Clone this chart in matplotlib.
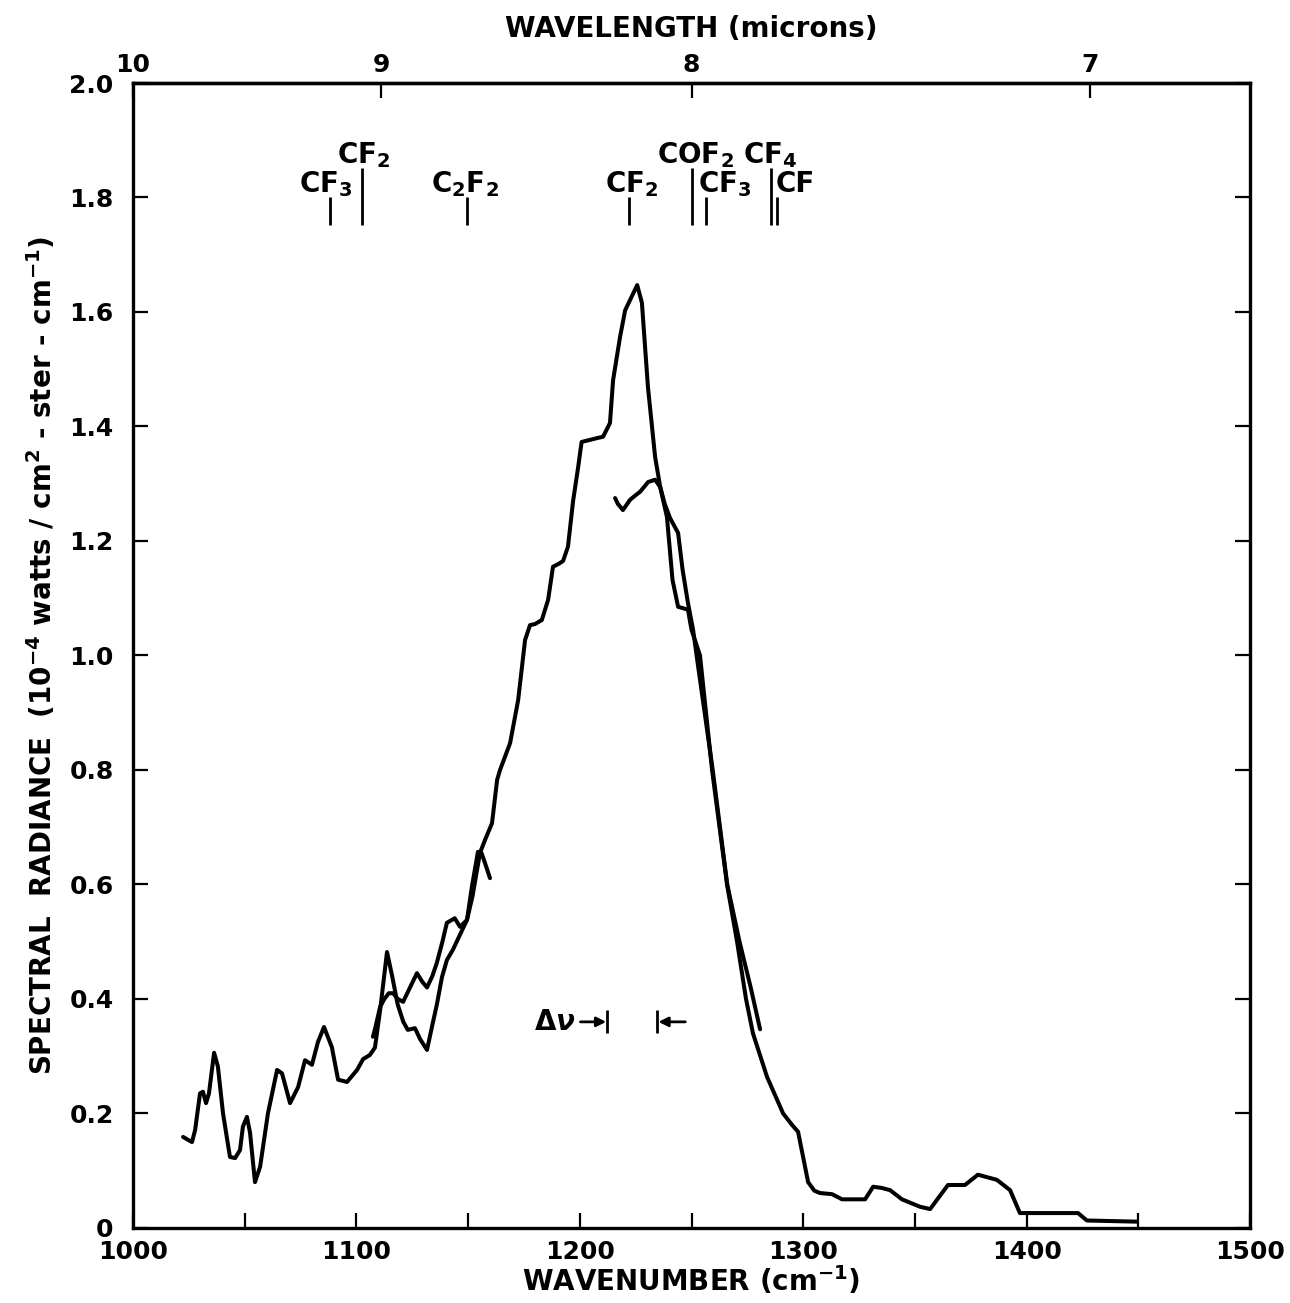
import numpy as np
import matplotlib
matplotlib.use("Agg")
import matplotlib.pyplot as plt

plt.rcParams["font.family"] = ["DejaVu Sans"]
plt.rcParams["font.weight"] = "bold"
plt.rcParams["axes.labelweight"] = "bold"
plt.rcParams["mathtext.fontset"] = "custom"
plt.rcParams["mathtext.bf"] = "DejaVu Sans:bold"
plt.rcParams["mathtext.rm"] = "DejaVu Sans:bold"
plt.rcParams["mathtext.default"] = "bf"

# main scan
wn_a = [1022.4, 1026.4, 1027.8, 1030.0, 1031.3, 1032.7, 1034.0, 1036.3, 1038.0, 1040.3,
        1043.4, 1045.7, 1047.9, 1049.2, 1051.0, 1052.4, 1054.6, 1056.9, 1060.4, 1064.5,
        1066.7, 1070.3, 1073.9, 1077.0, 1080.1, 1082.8, 1085.5, 1089.0, 1091.8, 1095.8,
        1100.3, 1103.0, 1106.0, 1108.3, 1110.6, 1113.7, 1116.0, 1118.5, 1121.0, 1123.0,
        1126.2, 1128.5, 1131.6, 1133.8, 1136.0, 1138.3, 1140.5, 1143.2, 1147.3, 1149.5,
        1152.0, 1155.3, 1157.6, 1160.7, 1163.0, 1164.3, 1168.8, 1172.4, 1175.5, 1177.7,
        1180.0, 1183.0, 1185.8, 1188.0, 1190.5, 1192.5, 1194.7, 1197.0, 1199.3, 1200.8,
        1205.0, 1208.0, 1210.4, 1213.5, 1214.9, 1218.0, 1220.3, 1223.0, 1225.7, 1227.8,
        1230.5, 1233.7, 1236.0, 1239.0, 1241.5, 1244.0, 1248.4, 1250.0, 1253.8, 1259.2,
        1265.9, 1270.4, 1274.4, 1277.5, 1283.8, 1291.0, 1295.0, 1297.7,
        1302.2, 1305.0, 1307.5, 1312.9, 1317.4, 1327.7, 1331.3, 1335.0, 1338.9, 1344.2,
        1352.3, 1356.8, 1364.8, 1372.4, 1378.2, 1386.7, 1392.6, 1397.0, 1400.0, 1423.0,
        1427.0, 1449.4]
rad_a = [0.159, 0.150, 0.171, 0.235, 0.238, 0.218, 0.235, 0.306, 0.282, 0.200,
         0.124, 0.122, 0.136, 0.177, 0.194, 0.166, 0.080, 0.107, 0.200, 0.276,
         0.270, 0.218, 0.246, 0.293, 0.285, 0.325, 0.351, 0.316, 0.259, 0.255,
         0.276, 0.295, 0.302, 0.315, 0.380, 0.482, 0.440, 0.390, 0.360, 0.346,
         0.349, 0.330, 0.311, 0.351, 0.390, 0.438, 0.468, 0.486, 0.520, 0.538,
         0.580, 0.655, 0.678, 0.707, 0.783, 0.800, 0.847, 0.922, 1.027, 1.053,
         1.055, 1.062, 1.097, 1.155, 1.160, 1.165, 1.190, 1.270, 1.330, 1.373,
         1.377, 1.380, 1.382, 1.406, 1.481, 1.556, 1.603, 1.625, 1.647, 1.616,
         1.469, 1.347, 1.294, 1.242, 1.132, 1.085, 1.080, 1.045, 1.000, 0.800,
         0.600, 0.500, 0.400, 0.340, 0.264, 0.200, 0.180, 0.168,
         0.080, 0.065, 0.061, 0.059, 0.050, 0.050, 0.072, 0.070, 0.066, 0.050,
         0.037, 0.033, 0.075, 0.075, 0.093, 0.084, 0.066, 0.026, 0.026, 0.026,
         0.013, 0.011]

# short overlapping scan, low side
wn_b = [1107.4, 1108.5, 1110.6, 1112.5, 1114.5, 1116.4, 1118.5, 1120.9, 1124.0, 1127.1,
        1129.5, 1131.6, 1134.0, 1136.0, 1138.5, 1140.5, 1144.0, 1146.4, 1149.5, 1151.7,
        1154.4, 1156.0, 1157.6, 1159.8]
rad_b = [0.334, 0.350, 0.386, 0.400, 0.410, 0.410, 0.400, 0.395, 0.420, 0.445,
         0.430, 0.420, 0.440, 0.463, 0.500, 0.533, 0.541, 0.526, 0.538, 0.596,
         0.657, 0.655, 0.637, 0.611]

# short overlapping scan, high side
wn_c = [1215.8, 1217.0, 1219.3, 1222.5, 1225.0, 1227.0, 1230.6, 1233.7, 1236.0, 1238.0,
        1240.4, 1244.0, 1246.0, 1248.4, 1250.7, 1253.0, 1259.5, 1266.0, 1271.5, 1276.5,
        1280.7]
rad_c = [1.275, 1.265, 1.254, 1.272, 1.280, 1.286, 1.303, 1.307, 1.294, 1.265,
         1.240, 1.214, 1.150, 1.092, 1.045, 0.980, 0.800, 0.600, 0.500, 0.420,
         0.347]

# band positions of species
species = ["CF$_3$", "CF$_2$", "C$_2$F$_2$", "CF$_2$", "COF$_2$", "CF$_3$", "CF$_4$", "CF"]
band_wn = [1088.0, 1102.6, 1149.6, 1222.0, 1250.4, 1256.5, 1285.4, 1288.4]
band_top = [1.801, 1.852, 1.801, 1.801, 1.852, 1.801, 1.852, 1.801]
label_x = [1086.5, 1103.4, 1148.6, 1223.2, 1251.6, 1253.0, 1285.1, 1287.8]
label_ha = ["center", "center", "center", "center", "center", "left", "center", "left"]
band_bottom = 1.752

# resolution marker
dnu_left, dnu_right, dnu_y = 1212.3, 1234.7, 0.36

fig = plt.figure(figsize=(12.9, 13.03), dpi=100)
ax = fig.add_axes([0.1031, 0.0576, 0.8659, 0.8787])

lw = 2.9
for xs, ys in [(wn_a, rad_a), (wn_b, rad_b), (wn_c, rad_c)]:
    ax.plot(xs, ys, color="black", lw=lw, solid_capstyle="round", solid_joinstyle="round")

for i in range(len(species)):
    ax.vlines(band_wn[i], band_bottom, band_top[i], color="black", lw=2.0)
    ax.text(label_x[i], band_top[i] + 0.008, species[i], ha=label_ha[i], va="baseline",
            fontsize=20)

# delta nu
ax.text(dnu_left - 23.4, dnu_y, "Δ$\\mathit{\\nu}$", ha="center", va="center", fontsize=20)
ax.vlines([dnu_left, dnu_right], dnu_y - 0.02, dnu_y + 0.02, color="black", lw=2.0)
ax.annotate("", xy=(dnu_left - 0.5, dnu_y), xytext=(dnu_left - 12, dnu_y),
            arrowprops=dict(arrowstyle="-|>", color="black", lw=2.0, mutation_scale=14,
                            shrinkA=0, shrinkB=0))
ax.annotate("", xy=(dnu_right + 0.5, dnu_y), xytext=(dnu_right + 12.5, dnu_y),
            arrowprops=dict(arrowstyle="-|>", color="black", lw=2.0, mutation_scale=14,
                            shrinkA=0, shrinkB=0))

ax.set_xlim(1000, 1500)
ax.set_ylim(0, 2.0)
ax.set_xticks([1000, 1100, 1200, 1300, 1400, 1500])
ax.set_xticks(np.arange(1050, 1500, 100), minor=True)
ax.set_yticks(np.arange(0, 2.01, 0.2))
ax.set_yticklabels(["0", "0.2", "0.4", "0.6", "0.8", "1.0", "1.2", "1.4", "1.6", "1.8", "2.0"])
ax.tick_params(axis="both", which="both", direction="in", length=11, width=1.6,
               labelsize=18, right=True, top=False)
ax.tick_params(axis="x", pad=9)
ax.tick_params(axis="y", pad=14)
for sp in ax.spines.values():
    sp.set_linewidth(2.4)


def to_wl(x):
    x = np.asarray(x, dtype=float)
    with np.errstate(divide="ignore"):
        return 1e4 / x


secax = ax.secondary_xaxis("top", functions=(to_wl, to_wl))
secax.set_xticks([10, 9, 8, 7])
secax.set_xticklabels(["10", "9", "8", "7"])
secax.tick_params(direction="in", length=11, width=1.6, labelsize=18, pad=4)
secax.spines["top"].set_linewidth(2.4)
secax.set_xlabel("WAVELENGTH (microns)", fontsize=20, fontweight="bold", labelpad=12)

ax.set_xlabel("WAVENUMBER (cm$^{-1}$)", fontsize=20, labelpad=0)
ax.set_ylabel("SPECTRAL  RADIANCE  (10$^{-4}$ watts / cm$^{2}$ - ster - cm$^{-1}$)",
              fontsize=20, labelpad=8)

fig.savefig("out.png", dpi=100)
